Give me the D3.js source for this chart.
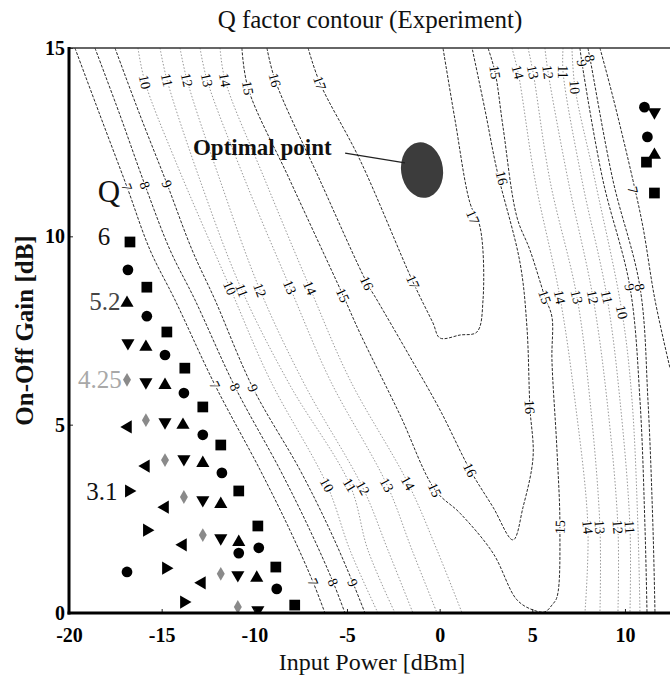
<!DOCTYPE html>
<html><head><meta charset="utf-8">
<script src="https://cdn.jsdelivr.net/npm/d3@7"></script>
<style>body{margin:0;background:#fff}svg{display:block}</style>
</head><body><svg id="c" width="670" height="675"></svg>
<script>
// ---------- data ----------
const xTicks = [-20, -15, -10, -5, 0, 5, 10];
const yTicks = [0, 5, 10, 15];

// contour polylines [input power dBm, on-off gain dB]
const c7  = [[-19.68,15],[-18.33,13.22],[-16.87,11.31],[-15.63,9.64],[-14.28,8.31],[-12.12,6.05],[-9.69,3.80],[-8.08,2.20],[-6.83,0.82],[-6.19,0]];
const c8  = [[-18.60,15],[-17.25,13.22],[-15.90,11.36],[-14.55,9.64],[-13.20,8.31],[-11.04,6.00],[-8.61,3.80],[-7.00,2.20],[-5.75,0.82],[-5.11,0]];
const c9  = [[-17.52,15],[-16.17,13.22],[-14.71,11.39],[-13.36,9.64],[-12.12,8.31],[-10.07,5.97],[-7.54,3.80],[-5.92,2.20],[-4.68,0.80],[-4.03,0]];
const c10 = [[-16.28,15],[-15.90,14.10],[-14.28,12.03],[-11.31,8.63],[-9.15,6.19],[-6.08,3.40],[-4.84,1.67],[-3.33,0]];
const c11 = [[-15.09,15],[-14.71,14.15],[-12.93,11.49],[-10.67,8.57],[-8.08,6.05],[-4.84,3.40],[-3.87,1.67],[-2.41,0]];
const c12 = [[-14.01,15],[-13.63,14.15],[-11.85,11.49],[-9.69,8.57],[-7.27,6.05],[-4.14,3.32],[-2.79,1.67],[-1.44,0]];
const c13 = [[-12.93,15],[-12.55,14.15],[-10.50,11.49],[-8.08,8.65],[-5.92,6.19],[-2.84,3.40],[-1.49,1.67],[-0.14,0]];
const c14 = [[-11.85,15],[-11.58,14.15],[-9.42,11.49],[-7.00,8.63],[-4.84,6.19],[-1.71,3.45],[-0.14,1.67],[1.21,0]];
const c15 = [[-10.67,15],[-10.34,13.94],[-8.08,11.49],[-5.22,8.44],[-4.30,7.43],[-2.14,5.26],[-0.25,3.27],[1.10,2.65],[2.88,1.59],[4.17,0.35],[5.04,0.08],[5.68,0.03],[6.06,0.21],[6.33,0.42],[6.49,2.28],[6.33,4.33],[6.06,6.72],[6.06,7.86],[5.68,8.39],[4.87,9.64],[4.17,10.51],[3.42,12.90],[2.99,14.36],[2.61,15]];
const c16 = [[-9.32,15],[-8.88,14.15],[-6.46,11.49],[-3.92,8.76],[-3.38,8.31],[-1.60,6.80],[0.02,5.39],[1.64,3.80],[2.88,2.81],[3.96,1.94],[4.50,2.81],[5.04,4.14],[4.87,5.47],[4.71,7.59],[4.34,9.29],[3.09,11.76],[2.45,13.35],[1.75,15]];
const c17 = [[-7.10,15],[-6.46,14.07],[-4.30,12.03],[-1.44,8.79],[-0.36,7.70],[0.02,7.30],[1.10,7.38],[2.01,7.46],[2.34,8.31],[2.18,10.25],[1.64,10.88],[0.83,13.09],[0.18,15]];
const r14 = [[3.90,15],[4.23,14.36],[5.15,11.49],[6.49,8.39],[7.30,5.65],[8.00,2.28],[7.84,0]];
const r13 = [[4.77,15],[5.04,14.36],[5.95,11.49],[7.41,8.39],[8.11,5.65],[8.65,2.28],[8.65,0]];
const r12 = [[5.68,15],[5.85,14.36],[6.93,11.49],[8.27,8.39],[9.03,5.65],[9.62,2.28],[9.62,0]];
const r11 = [[6.66,15],[6.66,14.36],[7.68,11.49],[9.03,8.39],[9.73,5.65],[10.27,2.28],[10.27,0]];
const r10 = [[7.14,15],[7.30,13.96],[8.38,11.49],[9.84,7.99],[10.38,5.65],[10.70,2.28],[10.81,0]];
const r9  = [[7.57,15],[7.68,14.60],[8.81,11.49],[10.27,8.65],[10.81,5.65],[11.08,2.28],[11.19,0]];
const r8  = [[8.00,15],[8.11,14.73],[9.35,11.49],[10.81,8.65],[11.24,5.65],[11.51,2.28],[11.62,0]];
const r7  = [[8.65,15],[9.35,13.70],[10.43,11.49],[10.97,10.25],[11.62,8.31],[12.43,6.50]];

// contour labels [level, x, y]
const contourLabels = [
  [10,-15.90,14.10],[11,-14.71,14.15],[12,-13.63,14.15],[13,-12.55,14.15],[14,-11.58,14.15],[15,-10.34,13.94],[16,-8.88,14.15],[17,-6.46,14.07],
  [7,-16.87,11.31],[8,-15.90,11.36],[9,-14.71,11.39],
  [10,-11.31,8.63],[11,-10.67,8.57],[12,-9.69,8.57],[13,-8.08,8.65],[14,-7.00,8.63],[15,-5.22,8.44],[16,-3.92,8.76],[17,-1.44,8.79],
  [7,-12.12,6.05],[8,-11.04,6.00],[9,-10.07,5.97],
  [10,-6.08,3.40],[11,-4.84,3.40],[12,-4.14,3.32],[13,-2.84,3.40],[14,-1.71,3.45],[15,-0.25,3.27],[16,1.64,3.80],
  [7,-6.83,0.82],[8,-5.75,0.82],[9,-4.68,0.80],
  [17,1.80,10.51],[16,3.36,11.55],[16,4.87,5.47],
  [15,2.99,14.36],[14,4.23,14.36],[13,5.04,14.36],[12,5.85,14.36],[11,6.66,14.36],[10,7.30,13.96],[9,7.68,14.60],[8,8.11,14.73],
  [15,5.68,8.39],[14,6.49,8.39],[13,7.41,8.39],[12,8.27,8.39],[11,9.03,8.39],[10,9.84,7.99],[9,10.27,8.65],[8,10.81,8.65],[7,10.43,11.23],
  [15,6.49,2.28],[14,8.00,2.28],[13,8.65,2.28],[12,9.62,2.28],[11,10.27,2.28]
];

// measured points by Q marker
const squares   = [[-16.71,9.85],[-15.80,8.65],[-14.72,7.46],[-13.75,6.50],[-12.78,5.47],[-11.81,4.46],[-10.84,3.24],[-9.81,2.31],[-8.84,1.22],[-7.82,0.21],[11.16,11.97],[11.59,11.15]];
const circles   = [[-16.82,9.11],[-15.80,7.88],[-14.82,6.85],[-13.80,5.84],[-12.78,4.73],[-11.75,3.72],[-10.84,1.59],[-9.76,1.73],[-16.87,1.09],[-8.79,0.64],[11.05,13.43],[11.21,12.64]];
const triUp     = [[-16.87,8.23],[-15.85,7.06],[-14.82,6.05],[-13.85,4.99],[-12.78,3.98],[-11.81,2.89],[-10.84,1.88],[-9.87,0.93],[11.59,12.16]];
const triDown   = [[-16.82,7.17],[-15.85,6.13],[-14.82,5.07],[-13.80,4.09],[-12.78,3.00],[-11.81,1.99],[-10.89,1.01],[-9.81,0.08],[11.59,13.30]];
const diamonds  = [[-16.87,6.19],[-15.85,5.12],[-14.82,4.06],[-13.80,3.08],[-12.78,2.07],[-11.81,1.04],[-10.89,0.16]];
const triLeft   = [[-16.82,4.94],[-15.85,3.90],[-14.82,2.81],[-13.85,1.81],[-12.83,0.80]];
const triRight  = [[-16.77,3.24],[-15.80,2.20],[-14.77,1.19],[-13.80,0.29]];

// Q legend labels [text, x, y]
const qLabels = [["Q",-17.84,10.91],["6",-18.11,9.77],["5.2",-18.06,8.04],["4.25",-18.33,5.97],["3.1",-18.22,3.00]];

const optimum = {x:-0.95, y:11.76, rx:1.13, ry:0.74};
const optText = {text:"Optimal point", x:-13.31, y:12.16};
const optLeader = [[-5.10,12.21],[-1.87,11.95]];

// ---------- drawing ----------
const L=69, R=670, T=48, B=613;
const svg = d3.select("#c");
const x = d3.scaleLinear().domain([-20,12.43]).range([L,R]);
const y = d3.scaleLinear().domain([0,15]).range([B,T]);
const serif = "'Liberation Serif','Times New Roman',serif";

svg.append("defs").append("clipPath").attr("id","plot")
  .append("rect").attr("x",L).attr("y",T).attr("width",R-L).attr("height",B-T);

const contours = [
  {level:7,pts:c7},{level:8,pts:c8},{level:9,pts:c9},{level:10,pts:c10},{level:11,pts:c11},
  {level:12,pts:c12},{level:13,pts:c13},{level:14,pts:c14},{level:15,pts:c15},{level:16,pts:c16},{level:17,pts:c17},
  {level:14,pts:r14},{level:13,pts:r13},{level:12,pts:r12},{level:11,pts:r11},{level:10,pts:r10},
  {level:9,pts:r9},{level:8,pts:r8},{level:7,pts:r7}
];
const darkLevels = new Set([7,8,9,15,16,17]);
const line = d3.line().x(d=>x(d[0])).y(d=>y(d[1])).curve(d3.curveCatmullRom.alpha(0.5));

const gC = svg.append("g").attr("clip-path","url(#plot)");
gC.selectAll("path.ct").data(contours).join("path")
  .attr("class","ct")
  .attr("d",d=>line(d.pts))
  .attr("fill","none")
  .attr("stroke",d=>darkLevels.has(d.level)?"#2a2a2a":"#8c8c8c")
  .attr("stroke-width",d=>darkLevels.has(d.level)?1:0.9)
  .attr("stroke-dasharray",d=>darkLevels.has(d.level)?"3,1.5":"1.5,1.8");

function angleAt(level, px, py){
  let best=[0,1], bd=1e9;
  contours.filter(c=>c.level===level).forEach(c=>{
    for(let i=0;i<c.pts.length-1;i++){
      const ax=x(c.pts[i][0]), ay=y(c.pts[i][1]), bx=x(c.pts[i+1][0]), by=y(c.pts[i+1][1]);
      const dx=bx-ax, dy=by-ay, l2=dx*dx+dy*dy;
      let t=l2?((px-ax)*dx+(py-ay)*dy)/l2:0; t=Math.max(0,Math.min(1,t));
      const qx=ax+t*dx-px, qy=ay+t*dy-py, d=qx*qx+qy*qy;
      if(d<bd){bd=d;best=[dx,dy];}
    }
  });
  let a=Math.atan2(best[1],best[0])*180/Math.PI;
  if(a>90)a-=180; if(a<-90)a+=180;
  return a;
}

svg.append("g").selectAll("text").data(contourLabels).join("text")
  .attr("transform",d=>`translate(${x(d[1])},${y(d[2])}) rotate(${angleAt(d[0],x(d[1]),y(d[2]))})`)
  .attr("text-anchor","middle").attr("dy","0.35em")
  .attr("font-family",serif).attr("font-size",14).attr("fill","#000")
  .attr("stroke","#fff").attr("stroke-width",2.5).attr("paint-order","stroke")
  .text(d=>d[0]);

// markers
const sets = [
  {pts:squares, type:d3.symbolSquare, size:115, rot:0, fill:"#000"},
  {pts:circles, type:d3.symbolCircle, size:90, rot:0, fill:"#000"},
  {pts:triUp, type:d3.symbolTriangle, size:75, rot:0, fill:"#000"},
  {pts:triDown, type:d3.symbolTriangle, size:75, rot:180, fill:"#000"},
  {pts:triLeft, type:d3.symbolTriangle, size:75, rot:-90, fill:"#000"},
  {pts:triRight, type:d3.symbolTriangle, size:75, rot:90, fill:"#000"},
  {pts:diamonds, type:d3.symbolDiamond, size:55, rot:0, fill:"#8a8a8a"}
];
const gM = svg.append("g").attr("clip-path","url(#plot)");
sets.forEach(s=>{
  gM.append("g").selectAll("path").data(s.pts).join("path")
    .attr("d",d3.symbol().type(s.type).size(s.size))
    .attr("transform",d=>`translate(${x(d[0])},${y(d[1])}) rotate(${s.rot})`)
    .attr("fill",s.fill);
});

// optimal point
svg.append("ellipse")
  .attr("cx",x(optimum.x)).attr("cy",y(optimum.y))
  .attr("rx",x(optimum.x+optimum.rx)-x(optimum.x))
  .attr("ry",y(optimum.y-optimum.ry)-y(optimum.y))
  .attr("transform",`rotate(-8,${x(optimum.x)},${y(optimum.y)})`)
  .attr("fill","#3c3c3c");
svg.append("path").attr("d",d3.line().x(d=>x(d[0])).y(d=>y(d[1]))(optLeader))
  .attr("stroke","#222").attr("stroke-width",1.2).attr("fill","none");
svg.append("text").attr("x",x(optText.x)).attr("y",y(optText.y))
  .attr("font-family",serif).attr("font-weight","bold").attr("font-size",23).attr("fill","#111")
  .text(optText.text);

// Q legend labels
svg.append("g").selectAll("text").data(qLabels).join("text")
  .attr("x",d=>x(d[1])).attr("y",d=>y(d[2])).attr("text-anchor","middle")
  .attr("font-family",serif)
  .attr("font-size",d=>d[0]==="Q"?31:25)
  .attr("fill",d=>d[0]==="4.25"?"#a8a8a8":(d[0]==="5.2"?"#444":"#111"))
  .text(d=>d[0]);

// axes
const fmt = d=>String(d);
const ax = svg.append("g").attr("transform",`translate(0,${B})`)
  .call(d3.axisBottom(x).tickValues(xTicks).tickFormat(fmt).tickSizeInner(-4).tickSizeOuter(0).tickPadding(15));
const ay = svg.append("g").attr("transform",`translate(${L},0)`)
  .call(d3.axisLeft(y).tickValues(yTicks).tickFormat(fmt).tickSizeInner(-4).tickSizeOuter(0).tickPadding(4));
[ax,ay].forEach(g=>{
  g.attr("font-family",serif);
  g.select(".domain").remove();
  g.selectAll("text").attr("font-family",serif).attr("font-weight","bold").attr("font-size",20).attr("fill","#000");
  g.selectAll("line").attr("stroke","#222");
});
svg.append("line").attr("x1",L).attr("x2",R).attr("y1",T).attr("y2",T).attr("stroke","#333").attr("stroke-width",1.6);
svg.append("line").attr("x1",L).attr("x2",L).attr("y1",T-1).attr("y2",B+1.5).attr("stroke","#000").attr("stroke-width",3);
svg.append("line").attr("x1",L-1.5).attr("x2",R).attr("y1",B).attr("y2",B).attr("stroke","#000").attr("stroke-width",3);

// titles
svg.append("text").attr("x",370).attr("y",28).attr("text-anchor","middle")
  .attr("font-family",serif).attr("font-size",25).attr("fill","#111").text("Q factor contour (Experiment)");
svg.append("text").attr("x",372).attr("y",670).attr("text-anchor","middle")
  .attr("font-family",serif).attr("font-size",24).attr("fill","#111").text("Input Power [dBm]");
svg.append("text").attr("transform",`translate(33,${(T+B)/2}) rotate(-90)`).attr("text-anchor","middle")
  .attr("font-family",serif).attr("font-weight","bold").attr("font-size",25).attr("fill","#111").text("On-Off Gain [dB]");
</script></body></html>
